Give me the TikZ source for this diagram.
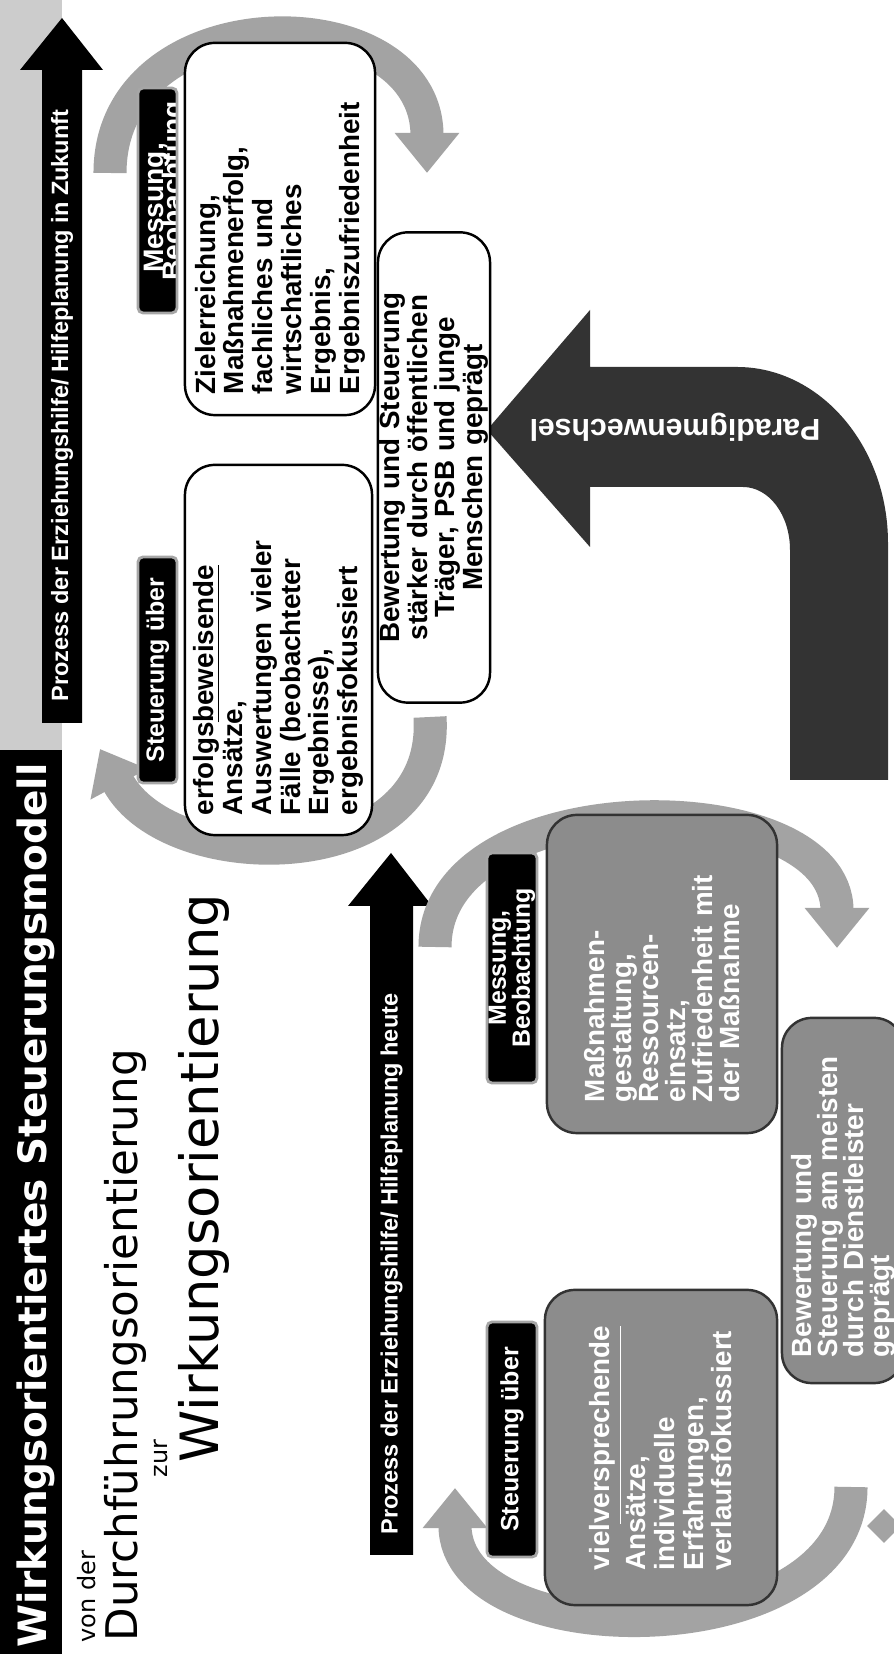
\documentclass[tikz,border=0pt]{standalone}
\usepackage{fontspec}
\setmainfont{Liberation Sans}
\newfontfamily\slidefont{DejaVu Sans}
\usetikzlibrary{arrows.meta}
\definecolor{boxgray}{gray}{0.55}
\definecolor{arcgray}{gray}{0.64}
\definecolor{bandgray}{gray}{0.8}
\definecolor{paragray}{gray}{0.2}

\tikzset{
  headline/.style={anchor=base west, inner sep=0pt},
  tagbox/.style={fill=black, draw=gray!70, line width=0.8pt, rounded corners=0.05cm, text=white, inner sep=0pt, align=center, font=\bfseries\fontsize{7.1}{6.8}\selectfont},
  whitebox/.style={draw=black, line width=0.7pt, fill=white, rounded corners=0.3cm, inner xsep=0.2cm, inner ysep=0pt, align=left, font=\bfseries\fontsize{7.9}{8.2}\selectfont},
  graybox/.style={whitebox, draw=gray!40!black, fill=boxgray, text=white},
  cycarrow/.style={draw=arcgray, line width=9.4pt, -{Triangle[width=0.62cm, length=0.4cm]}},
  proctext/.style={anchor=west, inner sep=0pt, text=white, font=\bfseries\fontsize{6.7}{7}\selectfont}
}

\begin{document}
\begin{tikzpicture}[x=0.01cm, y=0.01cm]
\begin{scope}[rotate=90, transform shape]
\useasboundingbox (0,0) rectangle (1654,-894);
\fill[white] (0,0) rectangle (1654,-894);

% title bar
\fill[black] (0,0) rectangle (904,-62);
\fill[bandgray] (904,0) rectangle (1654,-62);
\node[headline, text=white, font=\slidefont\bfseries\fontsize{11.1}{12}\selectfont] (T) at (6,-46) {Wirkungsorientiertes Steuerungsmodell};
\node[headline, font=\slidefont\fontsize{6.8}{7}\selectfont] (V) at (11,-95) {von der};
\node[headline, font=\slidefont\fontsize{12.4}{13}\selectfont] (D) at (12,-137) {Durchführungsorientierung};
\node[headline, font=\slidefont\fontsize{6.8}{7}\selectfont] (Z) at (176,-167) {zur};
\node[headline, font=\slidefont\fontsize{15}{16}\selectfont] (W) at (191,-218) {Wirkungsorientierung};

% heute
\begin{scope}
    \fill[black] (99,-370) -- (748,-370) -- (748,-348) -- (801,-391) -- (748,-432) -- (748,-413) -- (99,-413) -- cycle;
    \node[proctext] (ph) at (119,-391.5) {Prozess der Erziehungshilfe/ Hilfeplanung heute};
    \coordinate (h1s) at (167,-851);
    \coordinate (h1e) at (166,-455);
    \coordinate (h2s) at (707,-435);
    \coordinate (h2e) at (706,-837);
    \draw[cycarrow] (h1s) .. controls (-4,-851) and (-4,-455) .. (h1e);
    \draw[cycarrow] (h2s) .. controls (874,-435) and (874,-837) .. (h2e);
    \node[graybox, minimum width=3.15cm, minimum height=2.32cm, text width=2.45cm] (hA) at (206.5,-661)
        {viel\underline{versprechende}\\ Ansätze,\\ individuelle\\ Erfahrungen,\\ verlaufsfokussiert};
    \node[graybox, minimum width=3.18cm, minimum height=2.3cm, text width=2.56cm, font=\bfseries\fontsize{7.9}{7.7}\selectfont] (hB) at (680,-662)
        {Maßnahmen-\\ gestaltung,\\ Ressourcen-\\ einsatz,\\ Zufriedenheit mit\\ der Maßnahme};
    \node[graybox, minimum width=3.65cm, minimum height=1.22cm, text width=3.13cm, font=\bfseries\fontsize{7.9}{7.4}\selectfont] (hC) at (453.5,-843)
        {Bewertung und\\ Steuerung am meisten\\ durch Dienstleister\\ geprägt};
    \node[tagbox, minimum width=2.35cm, minimum height=0.5cm] (hS) at (214.5,-512) {Steuerung über};
    \node[tagbox, minimum width=2.3cm, minimum height=0.5cm] (hM) at (686,-512) {Messung,\\ Beobachtung};
    \fill[arcgray, rotate around={45:(128,-884)}] (116,-872) rectangle (140,-896);
\end{scope}

% Paradigmenwechsel
\fill[paragray] (874,-790) -- (1104,-790) .. controls (1139,-790) and (1167,-769) .. (1167,-743)
    -- (1167,-590) -- (1107,-590) -- (1224,-487) -- (1344,-590) -- (1287,-590) -- (1287,-737)
    .. controls (1287,-820) and (1208,-888) .. (1111,-888) -- (874,-888) -- cycle;
\node[rotate=90, text=white, font=\bfseries\fontsize{8.6}{9}\selectfont] (P) at (1227,-675) {Paradigmenwechsel};

% in Zukunft
\begin{scope}
    \fill[black] (931,-42) -- (1584,-42) -- (1584,-20) -- (1636,-62) -- (1584,-103) -- (1584,-82) -- (931,-82) -- cycle;
    \node[proctext] (pz) at (952,-62) {Prozess der Erziehungshilfe/ Hilfeplanung in Zukunft};
    \coordinate (f1s) at (937,-430);
    \coordinate (f1e) at (905,-100);
    \coordinate (f2s) at (1481,-110);
    \coordinate (f2e) at (1481,-427);
    \draw[cycarrow] (f1s) .. controls (775,-440) and (775,-170) .. (f1e);
    \draw[cycarrow] (f2s) .. controls (1661,-110) and (1661,-427) .. (f2e);
    \node[whitebox, minimum width=3.7cm, minimum height=1.87cm, text width=3.3cm] (fA) at (1004,-278.5)
        {erfolgs\underline{beweisende}\\ Ansätze,\\ Auswertungen vieler\\ Fälle (beobachteter\\ Ergebnisse),\\ ergebnisfokussiert};
    \node[whitebox, minimum width=3.72cm, minimum height=1.9cm, text width=3.3cm] (fB) at (1425,-280)
        {Zielerreichung,\\ Maßnahmenerfolg,\\ fachliches und\\ wirtschaftliches\\ Ergebnis,\\ Ergebniszufriedenheit};
    \node[whitebox, align=center, minimum width=4.69cm, minimum height=1.12cm, text width=4.3cm, font=\bfseries\fontsize{7.9}{7.8}\selectfont] (fC) at (1186.5,-434)
        {Bewertung und Steuerung\\ stärker durch öffentlichen\\ Träger, PSB und junge\\ Menschen geprägt};
    \node[tagbox, minimum width=2.26cm, minimum height=0.39cm] (fS) at (984,-157.5) {Steuerung über};
    \begin{scope}
        \clip[rounded corners=0.05cm] (1341,-138) rectangle (1566,-177);
        \fill[black] (1341,-138) rectangle (1566,-177);
        \node[anchor=base, inner sep=0pt, text=white, font=\bfseries\fontsize{8}{8}\selectfont] (fM1) at (1446,-163) {Messung,};
        \node[anchor=base, inner sep=0pt, text=white, font=\bfseries\fontsize{8}{8}\selectfont] (fM2) at (1463,-182) {Beobachtung};
    \end{scope}
    \draw[gray!70, line width=0.8pt, rounded corners=0.05cm] (1341,-138) rectangle (1566,-177);
\end{scope}
\end{scope}
\end{tikzpicture}
\end{document}
